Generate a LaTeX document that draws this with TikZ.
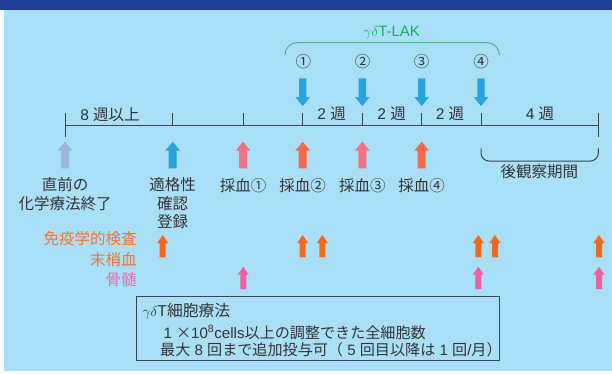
\documentclass[tikz,border=0pt]{standalone}
\usepackage{fontspec}
\setmainfont{Noto Sans CJK JP}
\newfontfamily\lat{Liberation Sans}
\definecolor{band}{HTML}{22409A}
\definecolor{bg}{HTML}{AADFF8}
\definecolor{txt}{HTML}{333333}
\definecolor{lineC}{HTML}{3C4650}
\definecolor{arBlue}{HTML}{29A3DC}
\definecolor{arGray}{HTML}{9DB4DC}
\definecolor{arPink}{HTML}{F17381}
\definecolor{arOrange}{HTML}{F36B48}
\definecolor{smOrange}{HTML}{F06A1E}
\definecolor{smPink}{HTML}{EF5FA2}
\definecolor{lakGreen}{HTML}{1DAE5C}
\definecolor{labOrange}{HTML}{F07333}
\definecolor{labPink}{HTML}{EE6AA8}
\tikzset{
  lbl/.style={inner sep=0pt, text=txt, font=\fontsize{15.5}{18.3}\selectfont, align=center},
  boxtxt/.style={inner sep=0pt, text=txt, font=\fontsize{15.1}{16}\selectfont, anchor=west},
  sidelbl/.style={inner sep=0pt, font=\fontsize{15.5}{16}\selectfont, anchor=east},
  axis/.style={draw=lineC, line width=1pt},
  pics/bigup/.style={code={\fill (-4,26.6) -- (-4,9) -- (-7.5,9) -- (0,0) -- (7.5,9) -- (4,9) -- (4,26.6) -- cycle;}},
  pics/bigdown/.style={code={\fill (-3.7,0) -- (-3.7,18.7) -- (-7.4,18.7) -- (0,27.7) -- (7.4,18.7) -- (3.7,18.7) -- (3.7,0) -- cycle;}},
  pics/smallup/.style={code={\fill (-3,22.3) -- (-3,8) -- (-5.5,8) -- (0,0) -- (5.5,8) -- (3,8) -- (3,22.3) -- cycle;}},
}
\begin{document}
\begin{tikzpicture}[x=1pt,y=-1pt]
\useasboundingbox (0,0) rectangle (612,373);
% background
\fill[white] (0,0) rectangle (612,373);
\fill[bg] (4,10) rectangle (612,371);
\fill[band] (0,0) rectangle (612,10);

% gamma delta T-LAK brace
\node[inner sep=0pt, text=lakGreen, font=\fontsize{15}{16}\selectfont] (lak) at (391.7,32.7) {$\gamma\delta${\lat T-LAK}};
\draw[draw=lakGreen!80!white, line width=1pt, rounded corners=12pt] (285,55) -- (285,42.7) -- (499.3,42.7) -- (499.3,55);

% circled numbers
\node[lbl] (c1) at (303.3,61.7) {①};
\node[lbl] (c2) at (362.7,61.7) {②};
\node[lbl] (c3) at (421.7,61.7) {③};
\node[lbl] (c4) at (481,61.7) {④};

% down arrows
\pic[fill=arBlue] at (302.7,78.3) {bigdown};
\pic[fill=arBlue] at (362.3,78.3) {bigdown};
\pic[fill=arBlue] at (421.7,78.3) {bigdown};
\pic[fill=arBlue] at (481,78.3) {bigdown};

% timeline
\coordinate (tl0) at (65,125);
\coordinate (tl1) at (598.3,125);
\draw[axis] (tl0) -- (tl1);
\draw[axis] (65,112.7) -- (65,136.7);
\draw[axis] (598.3,112.7) -- (598.3,136.7);
\foreach \x in {172.7,243,302.7,362.3,421.7,481} \draw[axis] (\x,112.7) -- (\x,125);

\node[lbl] (w8) at (110,115) {{\lat 8 }週以上};
\node[lbl] (w2a) at (331.7,113.3) {{\lat 2 }週};
\node[lbl] (w2b) at (391.7,113.3) {{\lat 2 }週};
\node[lbl] (w2c) at (450,113.3) {{\lat 2 }週};
\node[lbl] (w4) at (540,113.3) {{\lat 4 }週};

% big up arrows
\pic[fill=arGray] at (65,141.7) {bigup};
\pic[fill=arBlue] at (172.7,141.7) {bigup};
\pic[fill=arPink] at (243,141.7) {bigup};
\pic[fill=arOrange] at (302.7,141.7) {bigup};
\pic[fill=arPink] at (362.3,141.7) {bigup};
\pic[fill=arOrange] at (421.7,141.7) {bigup};

% follow-up brace
\draw[draw=lineC, line width=1pt, rounded corners=8pt] (481,148.3) -- (481,161) -- (598.3,161) -- (598.3,148.3);
\node[lbl] (obs) at (539.3,171.7) {後観察期間};

% labels
\node[lbl] (chem) at (65,194.2) {直前の\\化学療法終了};
\node[lbl] (elig) at (172.7,203.3) {適格性\\確認\\登録};
\node[lbl] (s1) at (243,186) {採血①};
\node[lbl] (s2) at (302.7,186) {採血②};
\node[lbl] (s3) at (362.3,186) {採血③};
\node[lbl] (s4) at (421.7,186) {採血④};

% side labels
\node[sidelbl, text=labOrange] (imm) at (136.7,238.3) {免疫学的検査};
\node[sidelbl, text=labOrange] (pb) at (136.7,259.3) {末梢血};
\node[sidelbl, text=labPink] (bm) at (136.7,280) {骨髄};

% small arrows
\foreach \x in {162.7,302.7,322.3,478.3,495,599} \pic[fill=smOrange] at (\x,235) {smallup};
\foreach \x in {243.3,478.3,599} \pic[fill=smPink] at (\x,266.7) {smallup};

% therapy box
\node[draw=lineC, line width=1pt, minimum width=362.3pt, minimum height=64pt, inner sep=0pt] (box) at (317.85,328.7) {};
\node[boxtxt, font=\fontsize{15.8}{16}\selectfont] (t1) at (142.3,311.7) {$\gamma\delta${\lat T}細胞療法};
\node[boxtxt] (t2) at (163.3,332.3) {{\lat 1 }×{\lat 10\textsuperscript{8}cells}以上の調整できた全細胞数};
\node[boxtxt] (t3) at (160,350) {最大{\lat\ 8 }回まで追加投与可（{\lat\ 5 }回目以降は{\lat\ 1 }回{\lat /}月）};
\end{tikzpicture}
\end{document}
